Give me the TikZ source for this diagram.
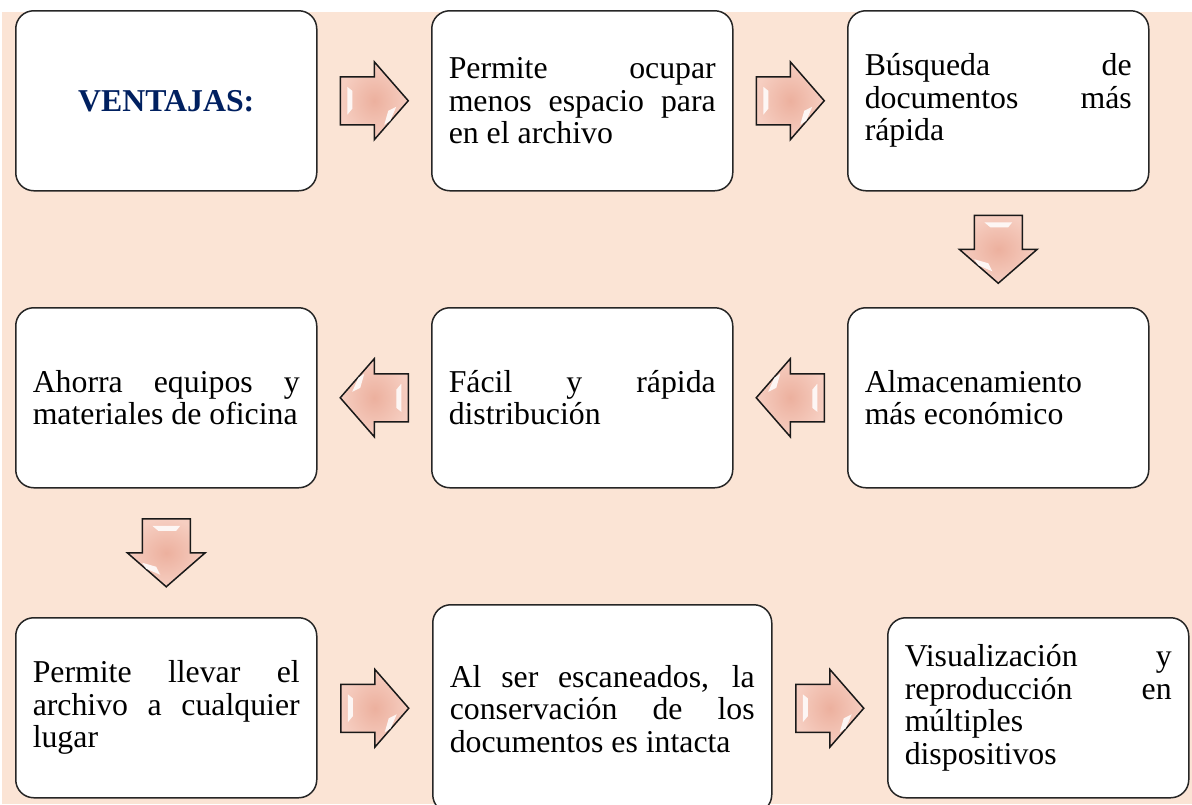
\documentclass[tikz,border=0pt]{standalone}
\usepackage{fontspec}
\setmainfont{Liberation Serif}
\usetikzlibrary{calc}
\definecolor{peach}{RGB}{251,228,213}
\definecolor{navy}{RGB}{0,32,96}
\definecolor{arrowin}{RGB}{236,176,158}
\definecolor{arrowout}{RGB}{246,206,193}
\newcommand{\boxfont}{\fontsize{31.8}{32.5}\selectfont\hyphenpenalty=10000\relax\exhyphenpenalty=10000\relax\tolerance=10000\relax}
\begin{document}
\begin{tikzpicture}[x=1pt,y=-1pt,
  box/.style={draw=black!85, line width=1.5pt, rounded corners=18pt, fill=white,
    inner xsep=17pt, inner ysep=0pt, text width=267pt, minimum height=180pt,
    align=justify, anchor=north west, font=\boxfont},
  blockarrow/.pic={
    \shade[draw=black!90, line width=1.5pt, line join=miter, inner color=arrowin, outer color=arrowout]
      (-34,24) -- (0,24) -- (0,39) -- (34,0) -- (0,-39) -- (0,-24) -- (-34,-24) -- cycle;
    \fill[white, opacity=0.85] (-27,-14) -- (-22,-10) -- (-22,8) -- (-27,14) -- cycle;
    \fill[white, opacity=0.85] (14,10) -- (22,6) -- (16,20) -- (10,24) -- cycle;
  }]
\useasboundingbox (0,0) rectangle (1192,804);
\fill[peach] (2,12) rectangle (1192,804);

% row 1
\node[box, align=center] (v) at (15,10) {\textbf{\textcolor{navy}{VENTAJAS:}}};
\node[box] (a2) at (431,10) {Permite ocupar\linebreak menos espacio para\linebreak en el archivo};
\node[box] (a3) at (847,10) {Búsqueda de\linebreak documentos más\linebreak rápida};

% row 2
\node[box] (b1) at (15,307) {Ahorra equipos y\linebreak materiales de oficina};
\node[box] (b2) at (431,307) {Fácil y rápida\linebreak distribución};
\node[box] (b3) at (847,307) {Almacenamiento\\ más económico};

% row 3
\node[box] (c1) at (15,617) {Permite llevar el\linebreak archivo a cualquier\linebreak lugar};
\node[box, text width=305pt, minimum height=208pt] (c2) at (432,604) {Al ser escaneados, la\linebreak conservación de los\linebreak documentos es intacta};
\node[box] (c3) at (887,617) {Visualización y\linebreak reproducción en\linebreak múltiples\\ dispositivos};

% arrows
\pic at ($(v.east)!.5!(a2.west)$) {blockarrow};
\pic at ($(a2.east)!.5!(a3.west)$) {blockarrow};
\pic[rotate=-90] at ($(a3.south)!.5!(b3.north)$) {blockarrow};
\pic[rotate=180] at ($(b3.west)!.5!(b2.east)$) {blockarrow};
\pic[rotate=180] at ($(b2.west)!.5!(b1.east)$) {blockarrow};
\pic[rotate=-90] at ($(b1.south)!.5!(c1.north)$) {blockarrow};
\pic at ($(c1.east)!.5!(c2.west)$) {blockarrow};
\pic at ($(c2.east)!.5!(c3.west)$) {blockarrow};
\end{tikzpicture}
\end{document}
